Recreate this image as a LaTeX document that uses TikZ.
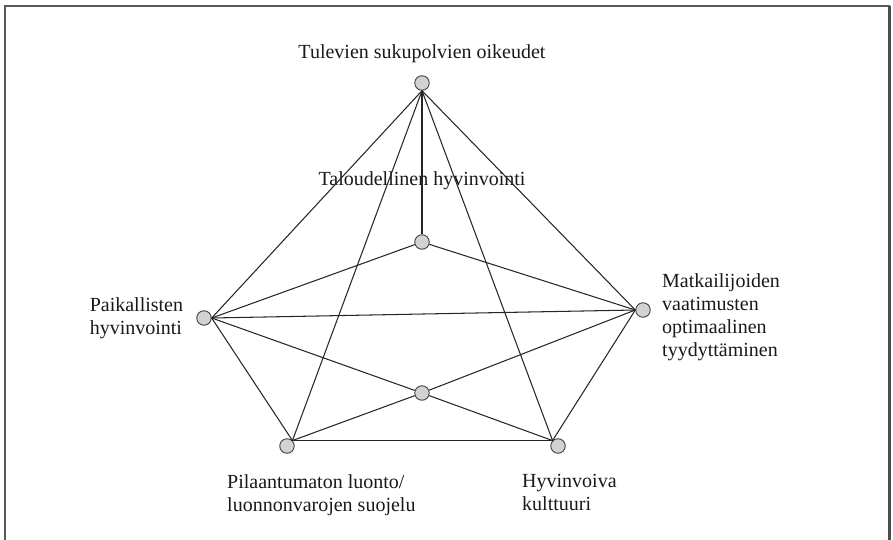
\documentclass[tikz,border=0pt]{standalone}
\usepackage{fontspec}
\setmainfont{Liberation Serif}
\usepackage{tikz}
\usetikzlibrary{positioning}

\begin{document}
\begin{tikzpicture}[x=1pt, y=-1pt]
			\tikzstyle{valuenode}=[
			draw=black!75,
			circle,
			fill=gray!35,
			line width=0.9pt,
			minimum size=14.5pt,
			inner sep=0pt
			]
			\tikzstyle{valuetext}=[
			inner sep=0pt,
			align=left,
			text=black!90,
			font=\fontsize{20}{23}\selectfont
			]
			\tikzstyle{link}=[draw=black!85, line width=1.05pt]
			\useasboundingbox (0,0) rectangle (893,540);
			% frame
			\draw[gray!70!black, line width=1.2pt] (5,545) -- (5,6) -- (889,6) -- (889,545);
			\draw[gray!60!black, line width=2.5pt] (889.5,6) -- (889.5,545);
			%
			\node[valuenode] (T) at (422,83) {};
			\node[valuenode] (C1) at (422,242) {};
			\node[valuenode] (L) at (204,318) {};
			\node[valuenode] (R) at (643,310) {};
			\node[valuenode] (C2) at (422,393) {};
			\node[valuenode] (BL) at (287,446) {};
			\node[valuenode] (BR) at (558,446) {};
			%
			\node[valuetext, above=12pt of T] (Ttext) {Tulevien sukupolvien oikeudet};
			\node[valuetext, above=44pt of C1] (C1text) {Taloudellinen hyvinvointi};
			\node[valuetext, left=13pt of L] (Ltext) {Paikallisten\\hyvinvointi};
			\node[valuetext, anchor=north west] (Rtext) at (662,273) {Matkailijoiden\\vaatimusten\\optimaalinen\\tyydyttäminen};
			\node[valuetext, anchor=north west] (BLtext) at (227,474) {Pilaantumaton luonto/\\luonnonvarojen suojelu};
			\node[valuetext, anchor=north west] (BRtext) at (522,474) {Hyvinvoiva\\kulttuuri};
			%
			\path[link] (T.south) -- (L.east);
			\path[link] (T.south) -- (BL.north east);
			\path[link] (T.south) -- (C1.north);
			\path[link] (T.south) -- (BR.north west);
			\path[link] (T.south) -- (R.west);
			\path[link] (C1) -- (L.east);
			\path[link] (C1) -- (R.west);
			\path[link] (L.east) -- (R.west);
			\path[link] (L.east) -- (C2) -- (BR.north west);
			\path[link] (R.west) -- (C2) -- (BL.north east);
			\path[link] (L.east) -- (BL.north east);
			\path[link] (R.west) -- (BR.north west);
			\path[link] (BL.north east) -- (BR.north west);
		\end{tikzpicture}
\end{document}
